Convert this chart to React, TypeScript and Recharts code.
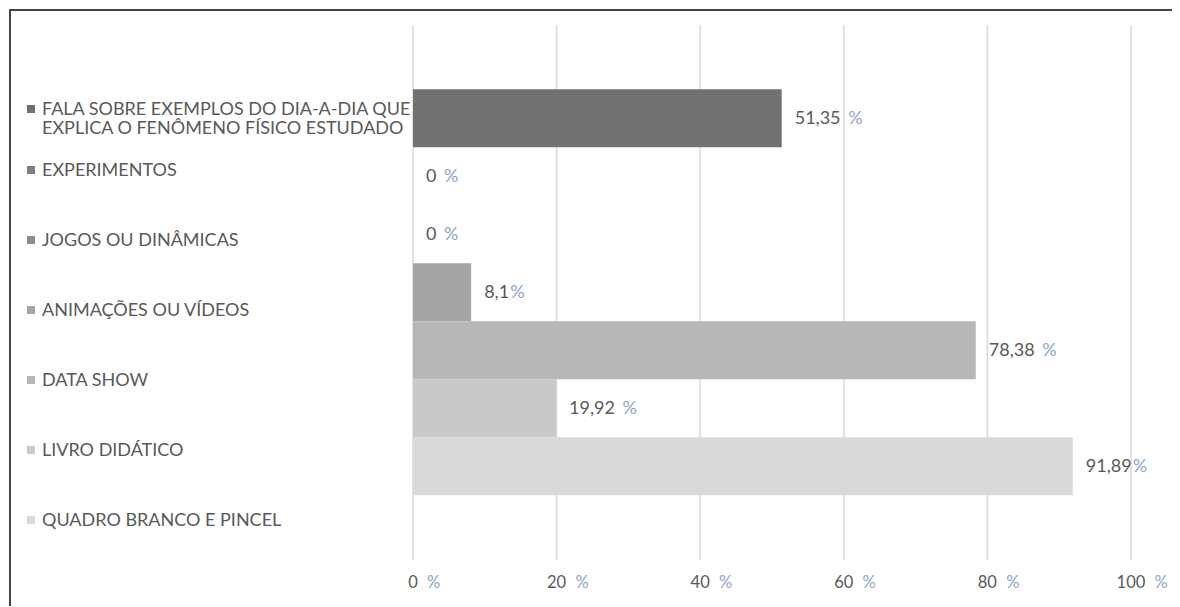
import React from "react";
import { BarChart, Bar, XAxis, YAxis, CartesianGrid, Legend, LabelList } from "recharts";

const seriesNames = [
  "FALA SOBRE EXEMPLOS DO DIA-A-DIA QUE\nEXPLICA O FENÔMENO FÍSICO ESTUDADO",
  "EXPERIMENTOS",
  "JOGOS OU DINÂMICAS",
  "ANIMAÇÕES OU VÍDEOS",
  "DATA SHOW",
  "LIVRO DIDÁTICO",
  "QUADRO BRANCO E PINCEL",
];
const seriesValues = [51.35, 0, 0, 8.1, 78.38, 19.92, 91.89];
const valueLabels = ["51,35 %", "0 %", "0 %", "8,1%", "78,38 %", "19,92 %", "91,89%"];
const seriesColors = ["#717171", "#7f7f7f", "#8c8c8c", "#a5a5a5", "#b7b7b7", "#c9c9c9", "#d9d9d9"];
const xTicks = [0, 20, 40, 60, 80, 100];

const FONT = "Lato, 'Open Sans', sans-serif";
const TEXT = "#595959";
const PCT = "#8aa6cc";

const row: Record<string, string | number> = { cat: "" };
seriesValues.forEach((v, i) => {
  row["s" + i] = v;
});
const data = [row];

function splitPct(s: string): [string, string] {
  const idx = s.indexOf("%");
  return [s.slice(0, idx), s.slice(idx)];
}

const XTick = (props: any) => {
  const { x, y, payload } = props;
  const num = String(payload.value);
  const w = num.length * 9.6;
  return (
    <text x={x - w / 2} y={y} dy={20} fontFamily={FONT} fontSize={16.5} fill={TEXT} textAnchor="start">
      <tspan>{num + " "}</tspan>
      <tspan fill={PCT} dx={5}>%</tspan>
    </text>
  );
};

const makeLabel = (i: number) => (props: any) => {
  const { x, y, width, height } = props;
  const [n, p] = splitPct(valueLabels[i]);
  const hasSpace = n.endsWith(" ");
  return (
    <text
      x={Number(x) + Number(width) + 13}
      y={Number(y) + Number(height) / 2}
      dy={6}
      fontFamily={FONT}
      fontSize={18}
      fill={TEXT}
      textAnchor="start"
    >
      <tspan>{n}</tspan>
      <tspan fill={PCT} dx={hasSpace ? 3 : 1}>{p}</tspan>
    </text>
  );
};

const LegendContent = (props: any) => {
  const payload = [...(props.payload || [])].sort(
    (a: any, b: any) => seriesNames.indexOf(a.value) - seriesNames.indexOf(b.value)
  );
  return (
    <div style={{ position: "relative", width: 400, height: 560 }}>
      {payload.map((entry: any, i: number) => {
        const top = i === 0 ? 88 : 149 + 70 * (i - 1);
        return (
          <div
            key={i}
            style={{
              position: "absolute",
              left: 16,
              top,
              fontFamily: FONT,
              fontSize: 18,
              lineHeight: "19px",
              color: TEXT,
              whiteSpace: "pre",
              paddingLeft: 15,
            }}
          >
            <span
              style={{
                position: "absolute",
                left: 0,
                top: 6,
                width: 8,
                height: 8,
                background: entry.color,
              }}
            />
            {entry.value}
          </div>
        );
      })}
    </div>
  );
};

export default function App() {
  return (
    <div
      style={{
        position: "relative",
        left: 1,
        top: 1,
        width: 1169,
        height: 596,
        borderTop: "2px solid #454545",
        borderLeft: "2px solid #454545",
        background: "#fff",
      }}
    >
      <BarChart
        width={1169}
        height={596}
        data={data}
        layout="vertical"
        margin={{ top: 14, right: 49, bottom: 17, left: 402 }}
        barCategoryGap="12%"
        barGap={0}
      >
        <CartesianGrid horizontal={false} stroke="#d9d9d9" strokeWidth={1.5} />
        <XAxis
          type="number"
          domain={[0, 100]}
          ticks={xTicks}
          axisLine={false}
          tickLine={false}
          height={30}
          tick={<XTick />}
          interval={0}
        />
        <YAxis type="category" dataKey="cat" hide />
        <Legend
          layout="vertical"
          align="center"
          verticalAlign="middle"
          wrapperStyle={{ left: 0, top: 0, width: 400, height: 560 }}
          content={<LegendContent />}
        />
        {seriesNames.map((name, i) => (
          <Bar
            key={i}
            dataKey={"s" + i}
            name={name}
            fill={seriesColors[i]}
            minPointSize={0.01}
            isAnimationActive={false}
          >
            <LabelList dataKey={"s" + i} content={makeLabel(i)} />
          </Bar>
        ))}
      </BarChart>
    </div>
  );
}
